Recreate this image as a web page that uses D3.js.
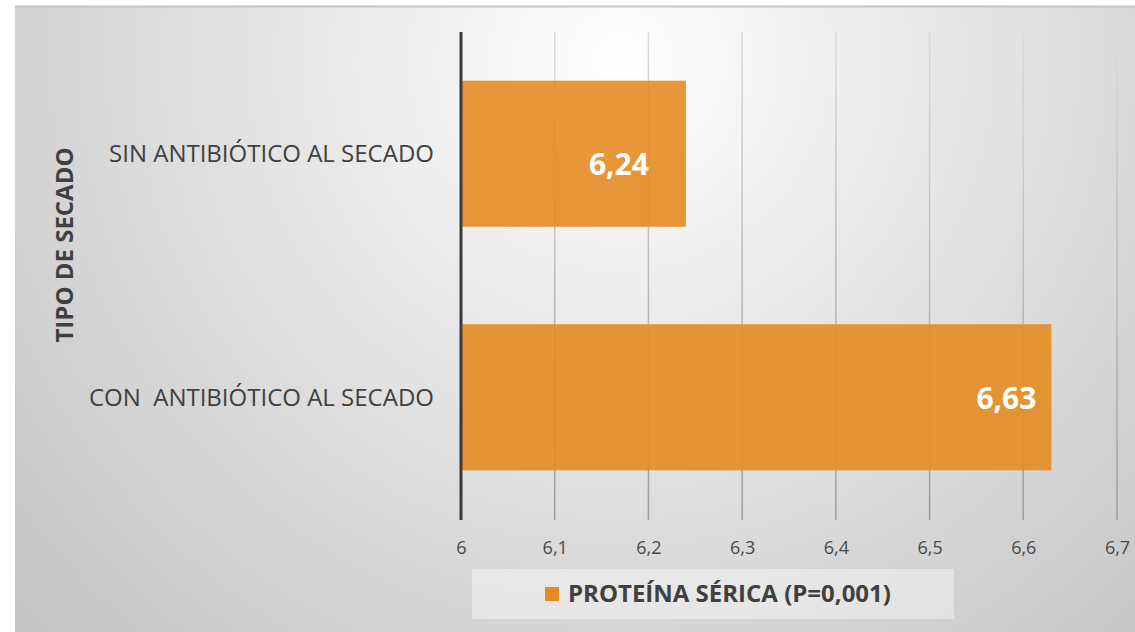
<!DOCTYPE html>
<html>
<head>
<meta charset="utf-8">
<script src="https://cdn.jsdelivr.net/npm/d3@7"></script>
<style>
  html, body { margin: 0; padding: 0; background: #ffffff; }
  svg { display: block; }
  text { font-family: "Open Sans", "DejaVu Sans", sans-serif; }
</style>
</head>
<body>
<svg id="chart" width="1135" height="632"></svg>
<script>
// Serum protein by drying-off treatment
const categories = ["SIN ANTIBIÓTICO AL SECADO", "CON  ANTIBIÓTICO AL SECADO"];
const proteinValues = [6.24, 6.63];
const valueLabels = ["6,24", "6,63"];
const tickValues = [6, 6.1, 6.2, 6.3, 6.4, 6.5, 6.6, 6.7];
const tickLabels = ["6", "6,1", "6,2", "6,3", "6,4", "6,5", "6,6", "6,7"];
const seriesName = "PROTEÍNA SÉRICA (P=0,001)";
const axisTitle = "TIPO DE SECADO";

// label placement inside each bar (px from the bar end / bar centre)
const labelNudge = [{ dx: -37, dy: 10 }, { dx: -15, dy: 1 }];

const W = 1135, H = 632;
const plot = { left: 461, right: 1117, top: 32, bottom: 519 };
const barColor = "#e48b22";
const textColor = "#404040";

const svg = d3.select("#chart");
const defs = svg.append("defs");

// soft radial backdrop, light at the top centre
const bg = defs.append("radialGradient")
  .attr("id", "bgGrad")
  .attr("gradientUnits", "userSpaceOnUse")
  .attr("cx", 620).attr("cy", 60).attr("r", 820);
[[0, "#ffffff"], [0.37, "#e8e8e8"], [0.73, "#d3d3d3"], [1, "#c4c4c4"]].forEach(([o, c]) =>
  bg.append("stop").attr("offset", o).attr("stop-color", c));

const gridGrad = defs.append("linearGradient")
  .attr("id", "gridGrad")
  .attr("gradientUnits", "userSpaceOnUse")
  .attr("x1", 0).attr("y1", plot.top).attr("x2", 0).attr("y2", plot.bottom);
gridGrad.append("stop").attr("offset", 0).attr("stop-color", "#dadada");
gridGrad.append("stop").attr("offset", 1).attr("stop-color", "#9c9c9c");

svg.append("rect")
  .attr("x", 15).attr("y", 6).attr("width", W - 15).attr("height", H - 6)
  .attr("fill", "url(#bgGrad)");
svg.append("line")
  .attr("x1", 15).attr("x2", W).attr("y1", 6.5).attr("y2", 6.5)
  .attr("stroke", "#c4c4c4").attr("stroke-width", 2);

const x = d3.scaleLinear().domain([6, 6.7]).range([plot.left, plot.right]);
const y = d3.scaleBand().domain(categories)
  .range([plot.top, plot.bottom]).paddingInner(0.4).paddingOuter(0.2);

// vertical gridlines
svg.append("g")
  .selectAll("line")
  .data(tickValues.slice(1))
  .join("line")
  .attr("x1", d => x(d)).attr("x2", d => x(d))
  .attr("y1", plot.top).attr("y2", plot.bottom + 1)
  .attr("stroke", "url(#gridGrad)")
  .attr("stroke-width", 1.5);

// bars
svg.append("g")
  .selectAll("rect")
  .data(categories)
  .join("rect")
  .attr("x", x(6))
  .attr("y", d => y(d))
  .attr("width", (d, i) => x(proteinValues[i]) - x(6))
  .attr("height", y.bandwidth())
  .attr("fill", barColor)
  .attr("fill-opacity", 0.9);

// category axis line
svg.append("line")
  .attr("x1", plot.left).attr("x2", plot.left)
  .attr("y1", plot.top).attr("y2", plot.bottom + 1)
  .attr("stroke", "#3a3a3a").attr("stroke-width", 3);

// value axis tick labels
const xAxis = d3.axisBottom(x)
  .tickValues(tickValues)
  .tickFormat((d, i) => tickLabels[i])
  .tickSize(0)
  .tickPadding(0);
const xg = svg.append("g").attr("transform", `translate(0, 541)`).call(xAxis);
xg.select(".domain").remove();
xg.selectAll("text")
  .attr("font-family", "'Open Sans', sans-serif")
  .attr("font-size", 18)
  .attr("fill", "#4a4a4a")
  .attr("dy", "0.71em");

// category labels
const yAxis = d3.axisLeft(y).tickSize(0).tickPadding(27);
const yg = svg.append("g").attr("transform", `translate(${plot.left}, 0)`).call(yAxis);
yg.select(".domain").remove();
yg.selectAll("text")
  .attr("font-family", "'Open Sans', sans-serif")
  .attr("font-size", 24)
  .attr("fill", textColor)
  .attr("dy", "0.36em")
  .style("white-space", "pre")
  .attr("xml:space", "preserve");

// value labels inside the bars
svg.append("g")
  .selectAll("text")
  .data(categories)
  .join("text")
  .attr("x", (d, i) => x(proteinValues[i]) + labelNudge[i].dx)
  .attr("y", (d, i) => y(d) + y.bandwidth() / 2 + labelNudge[i].dy)
  .attr("dy", "0.36em")
  .attr("text-anchor", "end")
  .attr("font-size", 30)
  .attr("font-weight", 700)
  .attr("fill", "#ffffff")
  .text((d, i) => valueLabels[i]);

// axis title
svg.append("text")
  .attr("transform", `translate(73, 245) rotate(-90)`)
  .attr("text-anchor", "middle")
  .attr("font-size", 24)
  .attr("font-weight", 700)
  .attr("fill", textColor)
  .text(axisTitle);

// legend
const lg = svg.append("g");
lg.append("rect")
  .attr("x", 472).attr("y", 569).attr("width", 482).attr("height", 50)
  .attr("fill", "#ffffff").attr("fill-opacity", 0.4);
lg.append("rect")
  .attr("x", 545).attr("y", 587).attr("width", 14).attr("height", 14)
  .attr("fill", barColor);
lg.append("text")
  .attr("x", 568).attr("y", 602)
  .attr("font-size", 24)
  .attr("font-weight", 700)
  .attr("fill", textColor)
  .text(seriesName);
</script>
</body>
</html>
